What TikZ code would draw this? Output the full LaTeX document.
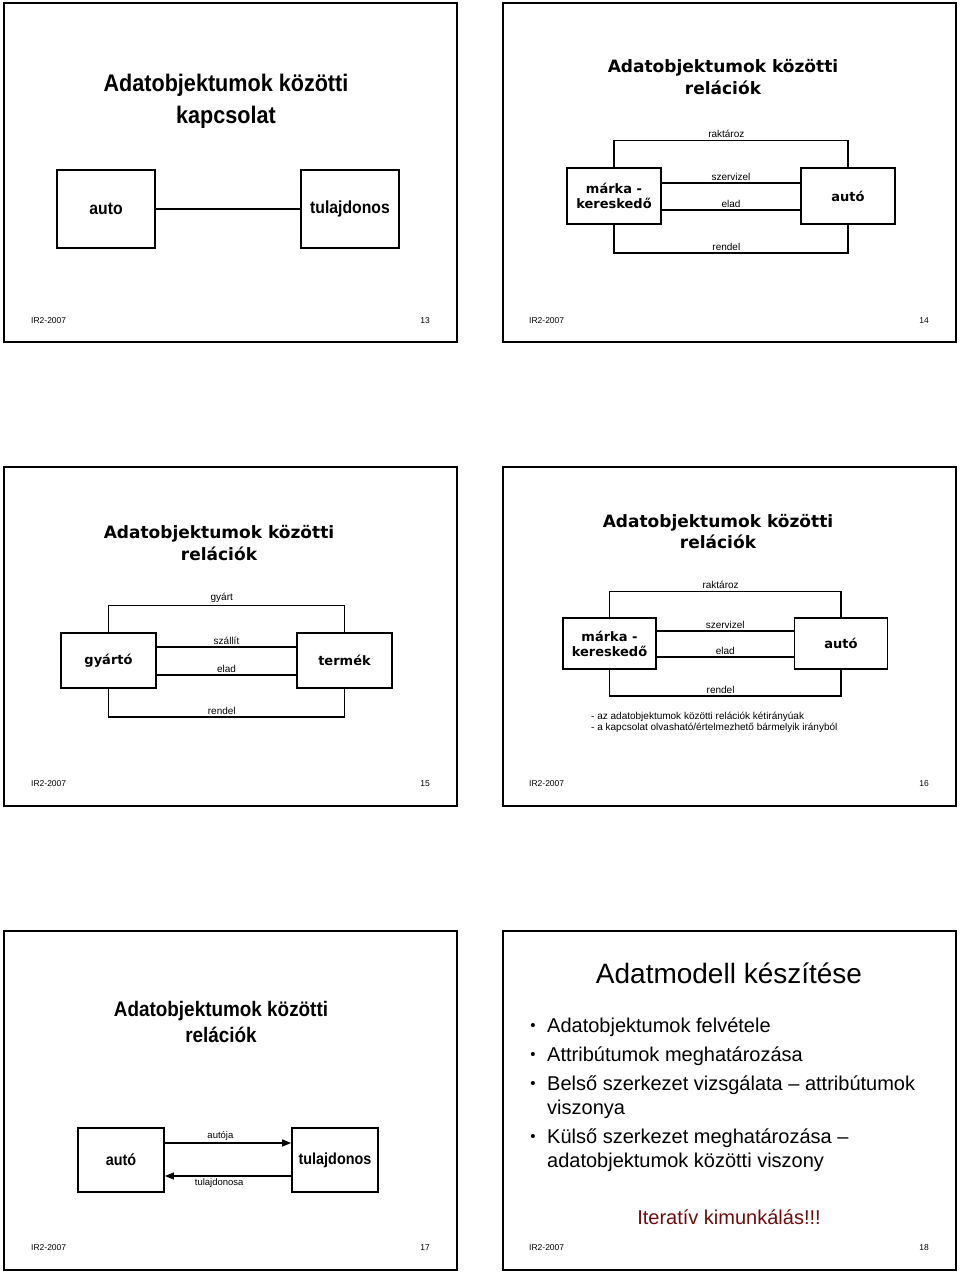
\documentclass[tikz,border=0pt]{standalone}
\usepackage{fontspec}
\setmainfont{Liberation Sans}
\newfontfamily\narrowsans[FakeStretch=0.9]{Liberation Sans}
\newfontfamily\widesans{DejaVu Sans}
\usetikzlibrary{arrows.meta,positioning,calc}
\definecolor{iterred}{HTML}{6E0B0B}

\begin{document}
\begin{tikzpicture}[x=1pt, y=-1pt, slideframe/.style={draw, line width=2.2pt}, narrowtitle/.style={align=center, font=\narrowsans\bfseries\fontsize{24}{32}\selectfont}, widetitle/.style={align=center, font=\widesans\bfseries\fontsize{17}{22}\selectfont}, entity/.style={draw, line width=1.6pt, inner sep=0pt, align=center, font=\widesans\bfseries\fontsize{13}{15}\selectfont}, bigentity/.style={draw, line width=2.2pt, inner sep=0pt, font=\narrowsans\bfseries\fontsize{17.5}{20}\selectfont}, relname/.style={font=\fontsize{10}{12}\selectfont, inner sep=2pt}, link/.style={line width=1.4pt}, footer/.style={font=\fontsize{8.5}{10}\selectfont, inner sep=0pt}, bulletline/.style={anchor=base west, inner sep=0pt, font=\fontsize{20}{24}\selectfont}, dotmark/.style={anchor=base, inner sep=0pt, font=\fontsize{15}{18}\selectfont}]
\useasboundingbox (0,0) rectangle (960,1272);

% slide 13
\draw[slideframe] (4,3) rectangle (457,342);
\node[narrowtitle] (title13) at (226,101) {Adatobjektumok közötti\\kapcsolat};
\node[bigentity, minimum width=98pt, minimum height=78pt] (auto13) at (106,209) {auto};
\node[bigentity, minimum width=98pt, minimum height=78pt] (owner13) at (350,209) {tulajdonos};
\draw[line width=2pt] (auto13) -- (owner13);
\node[footer, anchor=west] (ir13) at (31,321) {IR2-2007};
\node[footer, anchor=east] (num13) at (430,321) {13};

% slide 14
\draw[slideframe] (503,3) rectangle (956,342);
\node[widetitle] (title14) at (723,77) {Adatobjektumok közötti\\relációk};
\node[entity, minimum width=94pt, minimum height=56pt] (dealer14) at (614,196) {márka -\\kereskedő};
\node[entity, minimum width=94pt, minimum height=56pt] (car14) at (848,196) {autó};
\draw[link] (dealer14.north) -- ++(0,-27) -| node[relname, pos=0.24, above] {raktároz} (car14.north);
\draw[link] ([yshift=13pt]dealer14.east) -- node[relname, above] {szervizel} ([yshift=13pt]car14.west);
\draw[link] ([yshift=-14pt]dealer14.east) -- node[relname, above] {elad} ([yshift=-14pt]car14.west);
\draw[link] (dealer14.south) -- ++(0,28) -| node[relname, pos=0.24, above] {rendel} (car14.south);
\node[footer, anchor=west] (ir14) at (529,321) {IR2-2007};
\node[footer, anchor=east] (num14) at (929,321) {14};

% slide 15
\draw[slideframe] (4,467) rectangle (457,806);
\node[widetitle] (title15) at (219,543) {Adatobjektumok közötti\\relációk};
\node[entity, minimum width=95pt, minimum height=55pt] (maker15) at (108.5,660.5) {gyártó};
\node[entity, minimum width=95pt, minimum height=55pt] (product15) at (344.5,660.5) {termék};
\draw[link] (maker15.north) -- ++(0,-27) -| node[relname, pos=0.24, above] {gyárt} (product15.north);
\draw[link] ([yshift=13.5pt]maker15.east) -- node[relname, above] {szállít} ([yshift=13.5pt]product15.west);
\draw[link] ([yshift=-14.5pt]maker15.east) -- node[relname, above] {elad} ([yshift=-14.5pt]product15.west);
\draw[link] (maker15.south) -- ++(0,28) -| node[relname, pos=0.24, above] {rendel} (product15.south);
\node[footer, anchor=west] (ir15) at (31,784) {IR2-2007};
\node[footer, anchor=east] (num15) at (430,784) {15};

% slide 16
\draw[slideframe] (503,467) rectangle (956,806);
\node[widetitle, font=\widesans\bfseries\fontsize{17}{21}\selectfont] (title16) at (718,532) {Adatobjektumok közötti\\relációk};
\node[entity, minimum width=93pt, minimum height=51pt] (dealer16) at (609.5,643.5) {márka -\\kereskedő};
\node[entity, minimum width=93pt, minimum height=51pt] (car16) at (841,643.5) {autó};
\draw[link] (dealer16.north) -- ++(0,-26) -| node[relname, pos=0.24, above] {raktároz} (car16.north);
\draw[link] ([yshift=12.5pt]dealer16.east) -- node[relname, above] {szervizel} ([yshift=12.5pt]car16.west);
\draw[link] ([yshift=-13.5pt]dealer16.east) -- node[relname, above] {elad} ([yshift=-13.5pt]car16.west);
\draw[link] (dealer16.south) -- ++(0,26) -| node[relname, pos=0.24, above] {rendel} (car16.south);
\node[anchor=west, align=left, inner sep=0pt, font=\fontsize{10}{11}\selectfont] (notes16) at (591,722.5) {- az adatobjektumok közötti relációk kétirányúak\\- a kapcsolat olvasható/értelmezhető bármelyik irányból};
\node[footer, anchor=west] (ir16) at (529,784) {IR2-2007};
\node[footer, anchor=east] (num16) at (929,784) {16};

% slide 17
\draw[slideframe] (4,931) rectangle (457,1270);
\node[narrowtitle, font=\narrowsans\bfseries\fontsize{21}{26}\selectfont] (title17) at (221,1022) {Adatobjektumok közötti\\relációk};
\node[bigentity, font=\narrowsans\bfseries\fontsize{16}{18}\selectfont, line width=1.8pt, minimum width=86pt, minimum height=64pt] (auto17) at (121,1160) {autó};
\node[bigentity, font=\narrowsans\bfseries\fontsize{16}{18}\selectfont, line width=1.8pt, minimum width=86pt, minimum height=64pt] (owner17) at (335,1160) {tulajdonos};
\draw[link, -{Triangle[length=9pt,width=7pt]}] ([yshift=17pt]auto17.east) -- node[relname, font=\fontsize{9.5}{11}\selectfont, pos=0.44, above] {autója} ([yshift=17pt]owner17.west);
\draw[link, -{Triangle[length=9pt,width=7pt]}] ([yshift=-16pt]owner17.west) -- node[relname, font=\fontsize{9.5}{11}\selectfont, pos=0.57, below] {tulajdonosa} ([yshift=-16pt]auto17.east);
\node[footer, anchor=west] (ir17) at (31,1248) {IR2-2007};
\node[footer, anchor=east] (num17) at (430,1248) {17};

% slide 18
\draw[slideframe] (503,931) rectangle (956,1270);
\node[anchor=base, inner sep=0pt, font=\fontsize{28}{32}\selectfont] (title18) at (729,983) {Adatmodell készítése};
\node[dotmark] (dot1) at (533,1030) {•};
\node[bulletline] (step1) at (547,1032) {Adatobjektumok felvétele};
\node[dotmark] (dot2) at (533,1059) {•};
\node[bulletline] (step2) at (547,1061) {Attribútumok meghatározása};
\node[dotmark] (dot3) at (533,1088) {•};
\node[bulletline] (step3) at (547,1090) {Belső szerkezet vizsgálata – attribútumok};
\node[bulletline] (step3b) at (547,1114) {viszonya};
\node[dotmark] (dot4) at (533,1141) {•};
\node[bulletline] (step4) at (547,1143) {Külső szerkezet meghatározása –};
\node[bulletline] (step4b) at (547,1167) {adatobjektumok közötti viszony};
\node[anchor=base, inner sep=0pt, text=iterred, font=\fontsize{20}{24}\selectfont] (iter18) at (729,1224) {Iteratív kimunkálás!!!};
\node[footer, anchor=west] (ir18) at (529,1248) {IR2-2007};
\node[footer, anchor=east] (num18) at (929,1248) {18};
\end{tikzpicture}
\end{document}
